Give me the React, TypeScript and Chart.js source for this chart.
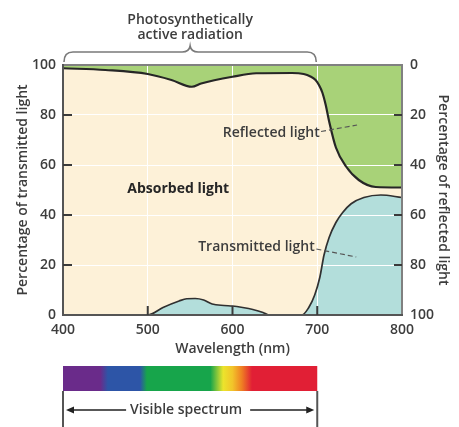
import React, { useEffect, useRef } from "react";
import { Chart, registerables } from "chart.js";

Chart.register(...registerables);

// ---- data ----
const xTicks = [400, 500, 600, 700, 800];
const leftTicks = [0, 20, 40, 60, 80, 100];
const rightTicks = [0, 20, 40, 60, 80, 100];

// Percentage of reflected light (right axis, reversed)
const reflWavelengths = [400, 450, 500, 528, 552, 563, 600, 628, 670, 684, 692, 698, 702, 706, 710, 714, 722, 734, 749, 769, 800];
const reflectedPct = [1.3, 2, 3.6, 6, 8.7, 7.4, 4.7, 3.3, 3.2, 3.6, 4.6, 6, 8, 11, 16, 22.5, 33, 40.6, 46, 48.8, 49];

// Percentage of transmitted light (left axis)
const transWavelengths = [400, 500, 518, 537, 546, 556, 566, 576, 590, 600, 612, 624, 636, 643, 682, 690, 697, 703, 708, 714, 722, 730, 740, 755, 775, 800];
const transmittedPct = [0, 0, 3, 5.6, 6.5, 6.6, 6, 4.4, 3.8, 3.6, 3, 2.2, 1, 0, 0, 3, 8, 15, 24, 31, 37, 41, 44.5, 47, 48, 47];

// Absorbed light fills the rest of the plot
const absorbedWavelengths = [400, 800];
const absorbedTop = [100, 100];

// Visible spectrum colour stops (nm)
const spectrumNm = [400, 444, 453, 491, 499, 574, 589, 600, 611, 623, 700];
const spectrumColors = ["#6a2b8a", "#6a2b8a", "#2d55a7", "#2d55a7", "#17a54b", "#17a54b", "#ece42c", "#f2c42a", "#ef7f23", "#e11f35", "#e11f35"];

const GREEN = "#a8d278";
const CREAM = "#fdf1d8";
const CYAN = "#b3dedb";
const TEXT = "#3d3d3d";
const FONT = '"Open Sans", sans-serif';
const WEIGHT = "600";

const decorPlugin = {
  id: "decor",
  afterDraw(chart: any) {
    const { ctx, chartArea: a, scales } = chart;
    const x = scales.x;
    const y = scales.y;
    ctx.save();

    // frame
    ctx.lineCap = "butt";
    ctx.lineWidth = 2;
    ctx.strokeStyle = "#808080";
    ctx.beginPath();
    ctx.moveTo(a.left, a.top);
    ctx.lineTo(a.right, a.top);
    ctx.lineTo(a.right, a.bottom);
    ctx.stroke();
    ctx.strokeStyle = "#555";
    ctx.beginPath();
    ctx.moveTo(a.left, a.top - 1);
    ctx.lineTo(a.left, a.bottom);
    ctx.lineTo(a.right + 1, a.bottom);
    ctx.stroke();

    // inward ticks
    ctx.strokeStyle = "#3a3a3a";
    ctx.lineWidth = 2;
    [20, 40, 60, 80].forEach((v) => {
      const py = y.getPixelForValue(v);
      ctx.beginPath();
      ctx.moveTo(a.left, py);
      ctx.lineTo(a.left + 9, py);
      ctx.moveTo(a.right - 8, py);
      ctx.lineTo(a.right, py);
      ctx.stroke();
    });
    [500, 600, 700].forEach((v) => {
      const px = x.getPixelForValue(v);
      ctx.beginPath();
      ctx.moveTo(px, a.bottom);
      ctx.lineTo(px, a.bottom - 9);
      ctx.stroke();
    });

    // inner labels
    ctx.textBaseline = "middle";
    ctx.fillStyle = "#262626";
    ctx.font = `bold 14px ${FONT}`;
    ctx.textAlign = "center";
    ctx.fillText("Absorbed light", x.getPixelForValue(536), y.getPixelForValue(50.4));
    ctx.font = `${WEIGHT} 14px ${FONT}`;
    ctx.fillStyle = TEXT;
    ctx.textAlign = "right";
    ctx.fillText("Reflected light", x.getPixelForValue(703), y.getPixelForValue(72.8));
    ctx.fillText("Transmitted light", x.getPixelForValue(697), y.getPixelForValue(27.2));

    ctx.strokeStyle = "#555";
    ctx.lineWidth = 1.2;
    ctx.setLineDash([5, 3]);
    ctx.beginPath();
    ctx.moveTo(x.getPixelForValue(704.5), y.getPixelForValue(73.4));
    ctx.lineTo(x.getPixelForValue(747), y.getPixelForValue(76));
    ctx.moveTo(x.getPixelForValue(699), y.getPixelForValue(26.4));
    ctx.lineTo(x.getPixelForValue(746), y.getPixelForValue(23.2));
    ctx.stroke();
    ctx.setLineDash([]);

    // brace: photosynthetically active radiation (400-700 nm)
    const bx0 = x.getPixelForValue(400);
    const bx1 = x.getPixelForValue(700);
    const bm = x.getPixelForValue(550);
    const by = 52;
    ctx.strokeStyle = "#7a7a7a";
    ctx.lineWidth = 1.6;
    ctx.beginPath();
    ctx.moveTo(bx0 + 1, 62);
    ctx.quadraticCurveTo(bx0 + 1, by, bx0 + 10, by);
    ctx.lineTo(bm - 8, by);
    ctx.quadraticCurveTo(bm - 1, by, bm, by - 6);
    ctx.quadraticCurveTo(bm + 1, by, bm + 8, by);
    ctx.lineTo(bx1 - 10, by);
    ctx.quadraticCurveTo(bx1 - 1, by, bx1 - 1, 62);
    ctx.stroke();
    ctx.fillStyle = TEXT;
    ctx.textAlign = "center";
    ctx.font = `${WEIGHT} 14px ${FONT}`;
    ctx.fillText("Photosynthetically", bm, 20);
    ctx.fillText("active radiation", bm, 35);

    // visible spectrum bar
    const sy0 = 366;
    const sy1 = 391;
    const grad = ctx.createLinearGradient(bx0, 0, bx1, 0);
    spectrumNm.forEach((nm, i) => grad.addColorStop((nm - 400) / 300, spectrumColors[i]));
    ctx.fillStyle = grad;
    ctx.fillRect(bx0, sy0, bx1 - bx0, sy1 - sy0);

    // visible spectrum arrow
    ctx.strokeStyle = "#555";
    ctx.lineWidth = 2;
    ctx.beginPath();
    ctx.moveTo(bx0, sy1);
    ctx.lineTo(bx0, 427);
    ctx.moveTo(bx1, sy1);
    ctx.lineTo(bx1, 427);
    ctx.stroke();
    const ay = 410;
    const label = "Visible spectrum";
    ctx.font = `${WEIGHT} 14px ${FONT}`;
    const tw = ctx.measureText(label).width;
    const tc = (bx0 + bx1) / 2 - 4;
    ctx.fillStyle = TEXT;
    ctx.fillText(label, tc, ay);
    ctx.strokeStyle = "#222";
    ctx.lineWidth = 1.5;
    ctx.beginPath();
    ctx.moveTo(bx0 + 9, ay);
    ctx.lineTo(tc - tw / 2 - 4, ay);
    ctx.moveTo(tc + tw / 2 + 8, ay);
    ctx.lineTo(bx1 - 9, ay);
    ctx.stroke();
    ctx.fillStyle = "#222";
    ctx.beginPath();
    ctx.moveTo(bx0 + 3, ay);
    ctx.lineTo(bx0 + 11, ay - 3.5);
    ctx.lineTo(bx0 + 11, ay + 3.5);
    ctx.closePath();
    ctx.moveTo(bx1 - 3, ay);
    ctx.lineTo(bx1 - 11, ay - 3.5);
    ctx.lineTo(bx1 - 11, ay + 3.5);
    ctx.closePath();
    ctx.fill();

    ctx.restore();
  },
};

export default function App() {
  const ref = useRef<HTMLCanvasElement | null>(null);

  useEffect(() => {
    if (!ref.current) return;
    const tickFont = { family: FONT, size: 14, weight: WEIGHT };
    const titleFont = { family: FONT, size: 14, weight: WEIGHT };
    const gridColor = (c: any) => {
      const v = c.tick && c.tick.value;
      return v === 400 || v === 800 || v === 0 || v === 100 ? "rgba(0,0,0,0)" : "#ffffff";
    };
    const chart = new Chart(ref.current, {
      type: "line",
      data: {
        datasets: [
          {
            label: "Reflected light",
            data: reflWavelengths.map((w, i) => ({ x: w, y: reflectedPct[i] })),
            yAxisID: "y2",
            borderColor: "#262626",
            borderWidth: 2.2,
            backgroundColor: GREEN,
            fill: { value: 0 },
            pointRadius: 0,
            cubicInterpolationMode: "monotone",
            order: 1,
          },
          {
            label: "Transmitted light",
            data: transWavelengths.map((w, i) => ({ x: w, y: transmittedPct[i] })),
            yAxisID: "y",
            borderColor: "#303030",
            borderWidth: 1.7,
            backgroundColor: CYAN,
            fill: "origin",
            pointRadius: 0,
            cubicInterpolationMode: "monotone",
            order: 2,
            segment: {
              borderColor: (s: any) =>
                s.p0.parsed.y <= 0 && s.p1.parsed.y <= 0 ? "rgba(0,0,0,0)" : "#303030",
            },
          },
          {
            label: "Absorbed light",
            data: absorbedWavelengths.map((w, i) => ({ x: w, y: absorbedTop[i] })),
            yAxisID: "y",
            borderWidth: 0,
            borderColor: "rgba(0,0,0,0)",
            backgroundColor: CREAM,
            fill: "origin",
            pointRadius: 0,
            order: 3,
          },
        ] as any,
      },
      options: {
        responsive: false,
        animation: false,
        devicePixelRatio: 1,
        layout: { padding: { top: 65, bottom: 70, left: 0, right: 0 } },
        plugins: {
          legend: { display: false },
          tooltip: { enabled: false },
          filler: { drawTime: "beforeDraw" },
        } as any,
        scales: {
          x: {
            type: "linear",
            min: 400,
            max: 800,
            afterBuildTicks: (s: any) => {
              s.ticks = xTicks.map((v) => ({ value: v }));
            },
            ticks: { font: tickFont, color: TEXT, padding: 7, autoSkip: false, maxRotation: 0 },
            grid: { color: gridColor, lineWidth: 1, drawTicks: false },
            border: { display: false },
            title: { display: true, text: "Wavelength (nm)", font: titleFont, color: TEXT, padding: { top: 0, bottom: 0 } },
            afterFit: (s: any) => {
              s.height = 42;
            },
          },
          y: {
            type: "linear",
            position: "left",
            min: 0,
            max: 100,
            afterBuildTicks: (s: any) => {
              s.ticks = leftTicks.map((v) => ({ value: v }));
            },
            ticks: { font: tickFont, color: TEXT, padding: 7 },
            grid: { color: gridColor, lineWidth: 1, drawTicks: false },
            border: { display: false },
            title: {
              display: true,
              text: "Percentage of transmitted light",
              font: titleFont,
              color: TEXT,
              padding: { top: 14.6, bottom: 0 },
            },
            afterFit: (s: any) => {
              s.width = 63;
            },
          },
          y2: {
            type: "linear",
            position: "right",
            reverse: true,
            min: 0,
            max: 100,
            afterBuildTicks: (s: any) => {
              s.ticks = rightTicks.map((v) => ({ value: v }));
            },
            ticks: { font: tickFont, color: TEXT, padding: 8 },
            grid: { display: false, drawTicks: false },
            border: { display: false },
            title: {
              display: true,
              text: "Percentage of reflected light",
              font: titleFont,
              color: TEXT,
              padding: { top: 7.6, bottom: 0 },
            },
            afterFit: (s: any) => {
              s.width = 57;
            },
          },
        },
      } as any,
      plugins: [decorPlugin],
    });
    return () => chart.destroy();
  }, []);

  return (
    <div style={{ position: "absolute", left: 0, top: 0, width: 459, height: 427 }}>
      <canvas ref={ref} width={459} height={427} style={{ width: 459, height: 427, display: "block" }} />
    </div>
  );
}
